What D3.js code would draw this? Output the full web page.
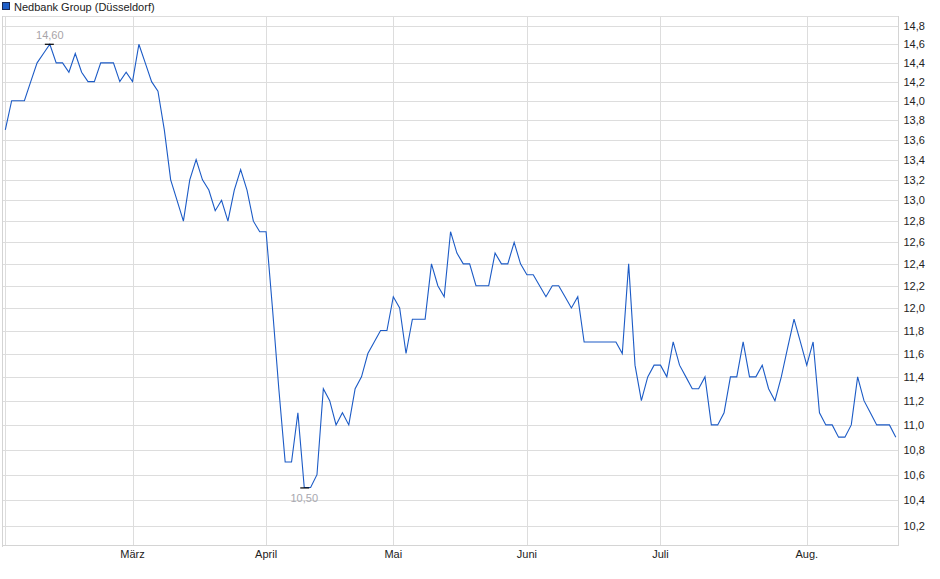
<!DOCTYPE html>
<html>
<head>
<meta charset="utf-8">
<script src="https://cdn.jsdelivr.net/npm/d3@7"></script>
<style>
  body { margin: 0; background: #fff; }
  svg { display: block; font-family: "Liberation Sans", Arial, sans-serif; }
</style>
</head>
<body>
<div id="chart"></div>
<script>
// Nedbank Group (Düsseldorf), daily close, Feb - Aug 2025

const title = "Nedbank Group (Düsseldorf)";

// trading days: weekdays between these dates, minus exchange holidays
const firstDay = "2025-02-03";
const lastDay = "2025-08-21";
const holidays = ["2025-04-18", "2025-04-21", "2025-05-01"];

// closing prices, one per trading day
const prices = [
  13.7, 14.0, 14.0, 14.0, 14.2, 14.4, 14.5, 14.6, 14.4, 14.4,
  14.3, 14.5, 14.3, 14.2, 14.2, 14.4, 14.4, 14.4, 14.2, 14.3,
  14.2, 14.6, 14.4, 14.2, 14.1, 13.7, 13.2, 13.0, 12.8, 13.2,
  13.4, 13.2, 13.1, 12.9, 13.0, 12.8, 13.1, 13.3, 13.1, 12.8,
  12.7, 12.7, 12.0, 11.3, 10.7, 10.7, 11.1, 10.5, 10.5, 10.6,
  11.3, 11.2, 11.0, 11.1, 11.0, 11.3, 11.4, 11.6, 11.7, 11.8,
  11.8, 12.1, 12.0, 11.6, 11.9, 11.9, 11.9, 12.4, 12.2, 12.1,
  12.7, 12.5, 12.4, 12.4, 12.2, 12.2, 12.2, 12.5, 12.4, 12.4,
  12.6, 12.4, 12.3, 12.3, 12.2, 12.1, 12.2, 12.2, 12.1, 12.0,
  12.1, 11.7, 11.7, 11.7, 11.7, 11.7, 11.7, 11.6, 12.4, 11.5,
  11.2, 11.4, 11.5, 11.5, 11.4, 11.7, 11.5, 11.4, 11.3, 11.3,
  11.4, 11.0, 11.0, 11.1, 11.4, 11.4, 11.7, 11.4, 11.4, 11.5,
  11.3, 11.2, 11.4, 11.65, 11.9, 11.7, 11.5, 11.7, 11.1, 11.0,
  11.0, 10.9, 10.9, 11.0, 11.4, 11.2, 11.1, 11.0, 11.0, 11.0,
  10.9
];

// month labels (German), first label sits on the left edge and is not shown
const monthLabels = ["Feb.", "März", "April", "Mai", "Juni", "Juli", "Aug."];

// right axis ticks
const yTicks = [10.2, 10.4, 10.6, 10.8, 11.0, 11.2, 11.4, 11.6, 11.8, 12.0,
  12.2, 12.4, 12.6, 12.8, 13.0, 13.2, 13.4, 13.6, 13.8, 14.0,
  14.2, 14.4, 14.6, 14.8];

var width = 940;
var height = 579;
var plotLeft = 2.5;      // outer left border
var plotRight = 898;     // right axis line
var plotTop = 16;
var plotBottom = 545;

// build the list of trading days
var parse = d3.utcParse("%Y-%m-%d");
var fmt = d3.utcFormat("%Y-%m-%d");
var days = d3.utcDay.range(parse(firstDay), d3.utcDay.offset(parse(lastDay), 1))
  .filter(d => d.getUTCDay() != 0 && d.getUTCDay() != 6 && !holidays.includes(fmt(d)));

var data = days.map((d, i) => ({ date: d, value: prices[i] }))
  .filter(d => d.value != null);

// index of first trading day in every month
var monthStarts = [];
days.forEach(function(d, i) {
  if (i == 0 || d.getUTCMonth() != days[i - 1].getUTCMonth()) monthStarts.push(i);
});

var x = d3.scaleLinear()
  .domain([0, prices.length - 1])
  .range([5.3, 895.8]);

var y = d3.scaleLog()
  .domain([10.2, 14.8])
  .range([526.4, 26]);

var comma = v => d3.format(".1f")(v).replace(".", ",");
var comma2 = v => d3.format(".2f")(v).replace(".", ",");

var svg = d3.select("#chart")
  .append("svg")
  .attr("width", width)
  .attr("height", height);

// legend
svg.append("rect")
  .attr("x", 2.5).attr("y", 2.5)
  .attr("width", 7).attr("height", 7)
  .attr("fill", "#1f5fc8")
  .attr("stroke", "#1a2a55");
svg.append("text")
  .attr("x", 14).attr("y", 10.5)
  .attr("font-size", 11)
  .attr("fill", "#222")
  .text(title);

// horizontal grid
svg.append("g")
  .selectAll("line")
  .data(yTicks)
  .enter()
  .append("line")
  .attr("x1", plotLeft).attr("x2", plotRight)
  .attr("y1", d => Math.round(y(d)) + 0.5)
  .attr("y2", d => Math.round(y(d)) + 0.5)
  .attr("stroke", "#dddddd");

// vertical month grid
svg.append("g")
  .selectAll("line")
  .data(monthStarts)
  .enter()
  .append("line")
  .attr("x1", d => Math.round(x(d)) + 0.5)
  .attr("x2", d => Math.round(x(d)) + 0.5)
  .attr("y1", plotTop).attr("y2", plotBottom)
  .attr("stroke", "#dddddd");

// frame
svg.append("line")
  .attr("x1", plotLeft).attr("x2", plotRight).attr("y1", plotTop + 0.5).attr("y2", plotTop + 0.5)
  .attr("stroke", "#dddddd");
svg.append("line")
  .attr("x1", plotLeft).attr("x2", plotRight).attr("y1", plotBottom + 0.5).attr("y2", plotBottom + 0.5)
  .attr("stroke", "#d4d4d4");
svg.append("line")
  .attr("x1", plotLeft).attr("x2", plotLeft).attr("y1", plotTop).attr("y2", plotBottom + 2)
  .attr("stroke", "#d4d4d4");

// right axis
var yAxis = svg.append("g")
  .attr("transform", "translate(" + (plotRight + 0.5) + ",0)")
  .call(d3.axisRight(y).tickValues(yTicks).tickSize(0).tickPadding(5).tickFormat(comma));
yAxis.select(".domain").remove();
yAxis.selectAll("text")
  .attr("font-family", "\"Liberation Sans\", Arial, sans-serif")
  .attr("font-size", 11)
  .attr("fill", "#222");
svg.append("line")
  .attr("x1", plotRight + 0.5).attr("x2", plotRight + 0.5).attr("y1", plotTop).attr("y2", plotBottom + 1)
  .attr("stroke", "#d4d4d4");

// month labels
svg.append("g")
  .selectAll("text")
  .data(monthStarts)
  .enter()
  .append("text")
  .filter((d, i) => i > 0)
  .attr("x", d => x(d))
  .attr("y", 558)
  .attr("text-anchor", "middle")
  .attr("font-size", 11)
  .attr("fill", "#222")
  .text(d => monthLabels[monthStarts.indexOf(d)]);

// price line
var line = d3.line()
  .x((d, i) => x(i))
  .y(d => y(d.value));

svg.append("path")
  .datum(data)
  .attr("d", line)
  .attr("fill", "none")
  .attr("stroke", "#1c5bc6")
  .attr("stroke-width", 1.1);

// high / low markers
var hiIdx = d3.maxIndex(prices);
var loIdx = d3.minIndex(prices);

svg.append("line")
  .attr("x1", x(hiIdx) - 5).attr("x2", x(hiIdx) + 4)
  .attr("y1", y(prices[hiIdx])).attr("y2", y(prices[hiIdx]))
  .attr("stroke", "#000").attr("stroke-width", 1.2);
svg.append("text")
  .attr("x", x(hiIdx)).attr("y", y(prices[hiIdx]) - 5)
  .attr("text-anchor", "middle")
  .attr("font-size", 11)
  .attr("fill", "#a8a4a8")
  .text(comma2(prices[hiIdx]));

svg.append("line")
  .attr("x1", x(loIdx) - 4).attr("x2", x(loIdx) + 5)
  .attr("y1", y(prices[loIdx]) + 0.5).attr("y2", y(prices[loIdx]) + 0.5)
  .attr("stroke", "#000").attr("stroke-width", 1.2);
svg.append("text")
  .attr("x", x(loIdx)).attr("y", y(prices[loIdx]) + 15)
  .attr("text-anchor", "middle")
  .attr("font-size", 11)
  .attr("fill", "#a8a8b0")
  .text(comma2(prices[loIdx]));
</script>
</body>
</html>
